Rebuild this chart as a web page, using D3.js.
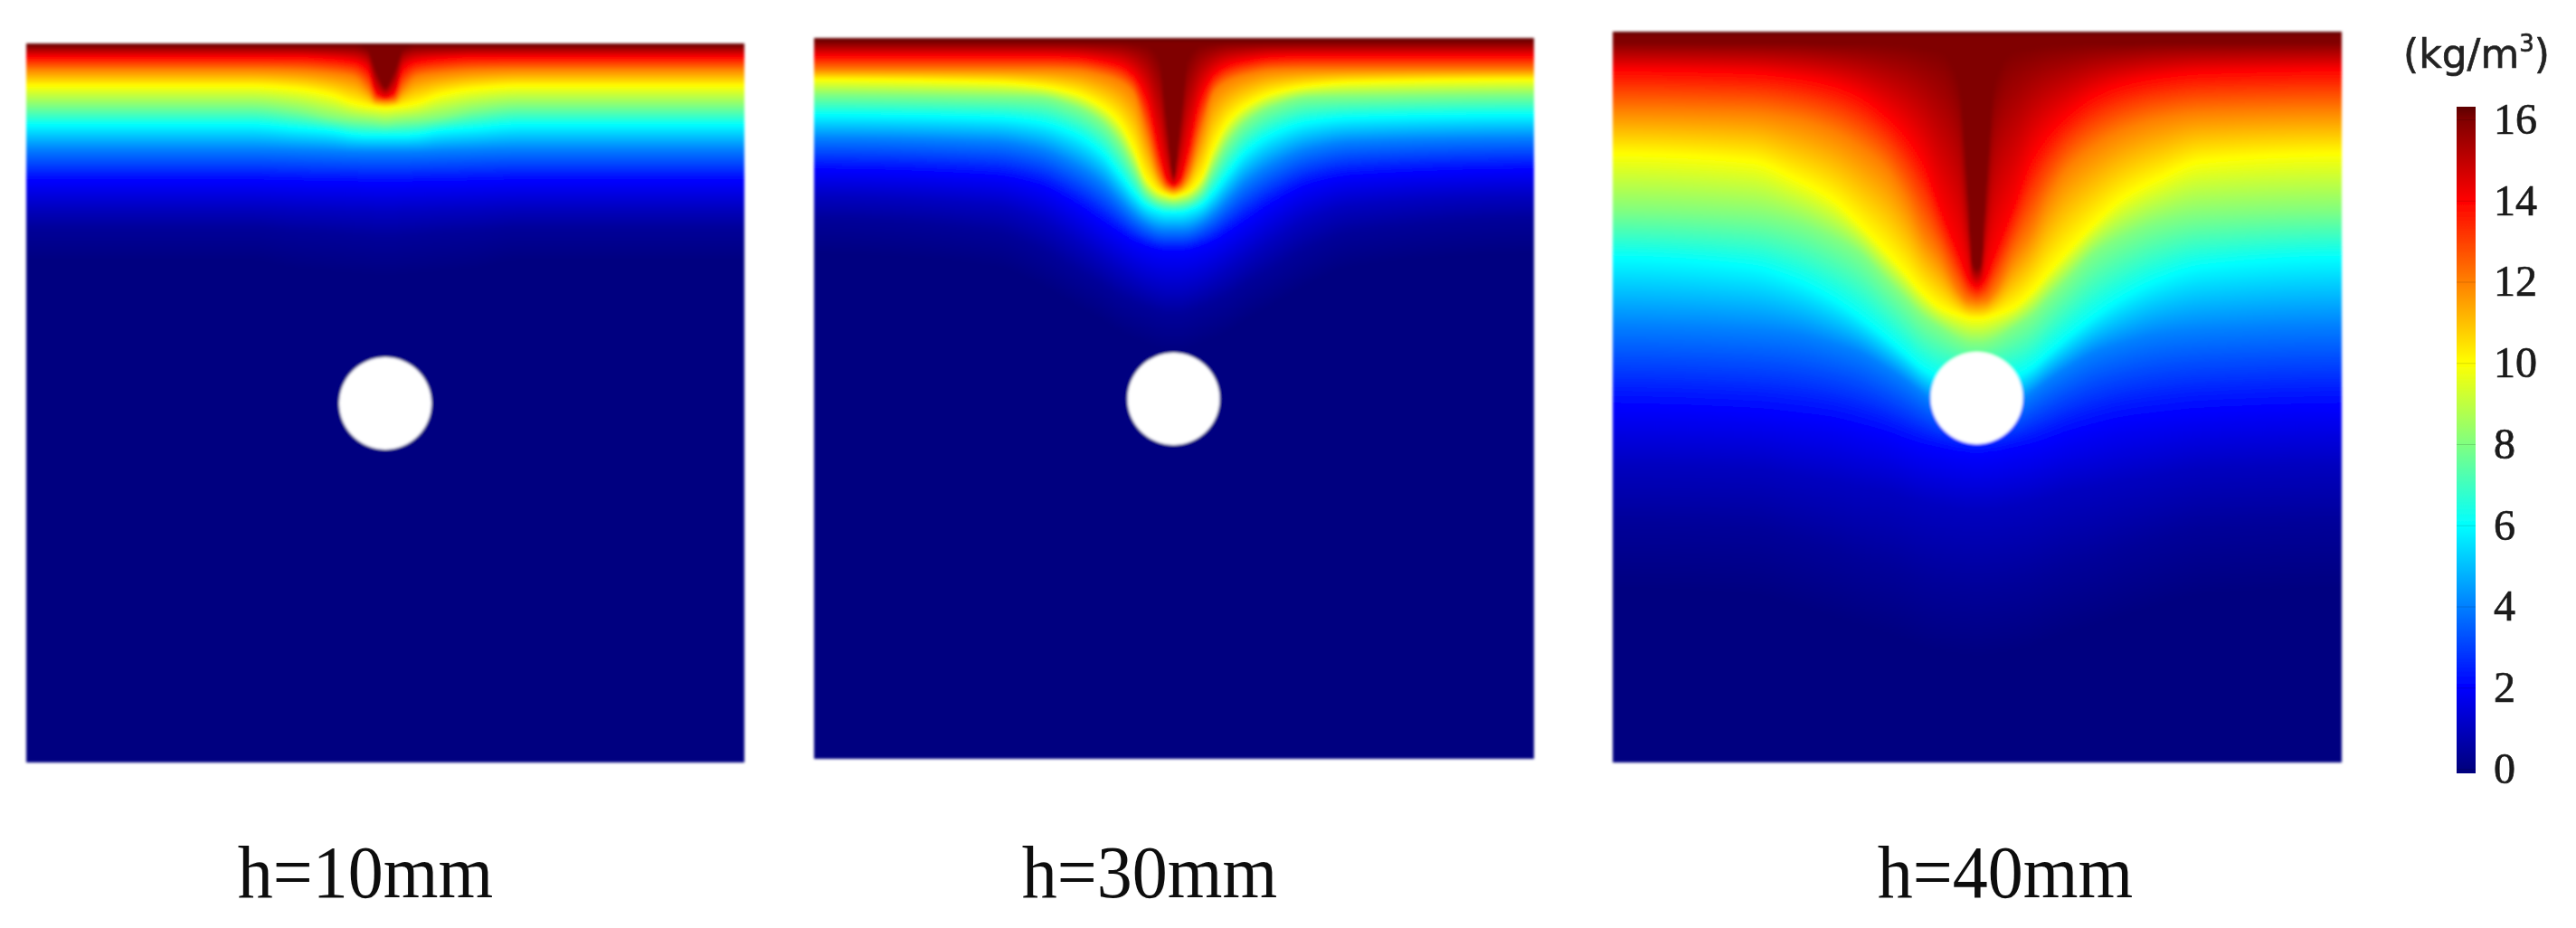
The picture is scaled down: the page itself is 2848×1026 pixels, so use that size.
<!DOCTYPE html>
<html><head><meta charset="utf-8">
<script src="https://cdn.jsdelivr.net/npm/d3@7"></script>
<style>html,body{margin:0;padding:0;background:#fff}svg{display:block}</style>
</head><body><svg id="chart" width="2848" height="1026"></svg>
<script>
// ---------- data ----------
const panelLabels = ["h=10mm", "h=30mm", "h=40mm"];
const colorTicks = [0, 2, 4, 6, 8, 10, 12, 14, 16];
const unitLabel = "(kg/m";
const unitExponent = "3";
// concentration levels whose iso-lines were traced
const levels = [16, 14, 12, 10, 8, 6, 4, 2, 1, 0.4, 0];
// field extents (field units) and hole centre depth / radius
const fieldDepths = [795, 797, 808];
const fieldHalfWidths = [397, 397.5, 402.5];
const holeDepths = [398, 399, 405];
const holeRadius = 51;
// horizontal offset from the centre line at which each iso-line depth was read
const offsets10 = [0, 10, 20, 35, 60, 100, 150, 410];
const iso10 = [
  [48, 30, 6, 3, 3, 3, 3, 3],
  [60, 55, 28, 20, 17, 15, 15, 15],
  [64, 63, 50, 37, 33, 30, 29, 29],
  [71, 70, 69, 66, 57, 50, 47, 47],
  [88, 87, 86, 85, 82, 74, 69, 69],
  [102, 102, 102, 101, 97, 94, 90, 90],
  [120, 120, 120, 120, 119, 118, 117, 117],
  [155, 155, 155, 154, 154, 153, 152, 152],
  [187, 187, 186, 186, 185, 184, 182, 182],
  [214, 214, 213, 212, 210, 208, 204, 204],
  [256, 256, 255, 254, 252, 248, 240, 240]
];
const offsets30 = [0, 8, 16, 30, 45, 60, 80, 110, 150, 200, 410];
const iso30 = [
  [152, 85, 22, 8, 6, 5, 5, 5, 5, 5, 5],
  [163, 156, 126, 66, 40, 30, 25, 21, 20, 20, 20],
  [168, 165, 153, 106, 60, 48, 41, 36, 35, 35, 35],
  [175, 173, 170, 156, 120, 93, 75, 61, 53, 49, 46],
  [183, 182, 180, 170, 143, 116, 93, 76, 66, 65, 63],
  [193, 193, 191, 185, 170, 150, 126, 106, 93, 88, 85],
  [213, 213, 212, 206, 195, 180, 160, 140, 123, 115, 111],
  [236, 236, 235, 231, 225, 216, 203, 183, 163, 153, 146],
  [280, 280, 278, 273, 265, 256, 243, 223, 200, 185, 175],
  [305, 305, 303, 298, 292, 285, 272, 255, 232, 214, 200],
  [345, 345, 343, 338, 332, 325, 312, 295, 272, 252, 238]
];
const offsets40 = [0, 5, 10, 20, 40, 60, 80, 100, 130, 160, 200, 250, 410];
const iso40 = [
  [262, 255, 170, 55, 22, 18, 15, 14, 13, 13, 12, 12, 12],
  [282, 279, 272, 245, 195, 142, 112, 92, 70, 58, 50, 45, 42],
  [300, 299, 298, 288, 252, 222, 182, 152, 127, 110, 97, 90, 87],
  [317, 317, 316, 313, 305, 288, 265, 243, 212, 185, 163, 143, 135],
  [345, 345, 344, 340, 328, 315, 295, 275, 245, 228, 212, 203, 198],
  [388, 388, 387, 385, 382, 372, 355, 338, 315, 295, 275, 260, 250],
  [425, 425, 424, 422, 415, 400, 385, 372, 355, 345, 335, 330, 325],
  [468, 468, 467, 466, 462, 458, 452, 445, 437, 430, 425, 420, 415],
  [528, 528, 528, 527, 524, 520, 514, 508, 503, 497, 490, 482, 478],
  [615, 615, 614, 613, 610, 605, 597, 590, 582, 572, 560, 548, 542],
  [690, 690, 689, 688, 685, 680, 672, 665, 656, 647, 635, 622, 615]
];
const allOffsets = [offsets10, offsets30, offsets40];
const allIso = [iso10, iso30, iso40];

// ---------- layout ----------
const boxes = [
  {x0: 29, x1: 823, y0: 48, y1: 843, label: 404},
  {x0: 900, x1: 1695, y0: 42, y1: 839, label: 1271},
  {x0: 1783, x1: 2588, y0: 35, y1: 843, label: 2217}
];
const bar = {x0: 2716, x1: 2737, y0: 118, y1: 855};
const COL = 2;
const RIM = 5;

const colorScale = d3.scaleLinear()
  .domain([0, 2, 6, 8, 10, 14, 16, 17])
  .range(["#000080", "#0000ff", "#00ffff", "#80ff80", "#ffff00", "#ff0000", "#800000", "#5c0000"])
  .clamp(true);

// shape-preserving cubic through the traced depths of one iso-line
function monotone(xs, ys) {
  const n = xs.length, h = [], s = [], m = new Array(n).fill(0);
  for (let i = 0; i < n - 1; i++) { h[i] = xs[i + 1] - xs[i]; s[i] = (ys[i + 1] - ys[i]) / h[i]; }
  for (let i = 1; i < n - 1; i++) {
    if (s[i - 1] * s[i] > 0) {
      const w1 = 2 * h[i] + h[i - 1], w2 = h[i] + 2 * h[i - 1];
      m[i] = (w1 + w2) / (w1 / s[i - 1] + w2 / s[i]);
    }
  }
  return x => {
    let i = Math.min(d3.bisectRight(xs, x) - 1, n - 2);
    const t = (x - xs[i]) / h[i], t2 = t * t, t3 = t2 * t;
    return (2 * t3 - 3 * t2 + 1) * ys[i] + (t3 - 2 * t2 + t) * h[i] * m[i] +
           (-2 * t3 + 3 * t2) * ys[i + 1] + (t3 - t2) * h[i] * m[i + 1];
  };
}

const svg = d3.select("#chart");
const defs = svg.append("defs");
const soft = defs.append("filter").attr("id", "soft")
  .attr("x", "-2%").attr("y", "-2%").attr("width", "104%").attr("height", "104%");
soft.append("feGaussianBlur").attr("stdDeviation", 1.4);
const softText = defs.append("filter").attr("id", "softText")
  .attr("x", "-5%").attr("y", "-20%").attr("width", "110%").attr("height", "140%");
softText.append("feGaussianBlur").attr("stdDeviation", 0.7);

boxes.forEach((box, p) => {
  const H = fieldDepths[p], W = fieldHalfWidths[p];
  const x = d3.scaleLinear().domain([-W, W]).range([box.x0, box.x1]);
  const y = d3.scaleLinear().domain([0, H]).range([box.y0, box.y1]);
  const curves = allIso[p].map(row => monotone(allOffsets[p], row));
  const nCols = Math.round((box.x1 - box.x0) / COL);
  const cols = d3.range(nCols).map(i => x.invert(box.x0 + i * COL));
  const du = x.invert(box.x0 + COL) - x.invert(box.x0);

  const g = svg.append("g").attr("class", "panel").attr("filter", "url(#soft)");
  cols.forEach((u, i) => {
    const id = `p${p}c${i}`;
    const mid = Math.abs(u + du / 2);
    let last = 0;
    const d16 = curves[0](mid);
    const stops = [{o: 0, c: colorScale(17)}];
    if (d16 > RIM) stops.push({o: RIM / H, c: colorScale(16)});
    levels.forEach((lv, k) => {
      let d = Math.max(curves[k](mid), last);
      last = d;
      stops.push({o: d / H, c: colorScale(lv)});
    });
    const lg = defs.append("linearGradient").attr("id", id)
      .attr("x1", 0).attr("y1", 0).attr("x2", 0).attr("y2", 1);
    lg.selectAll("stop").data(stops).join("stop")
      .attr("offset", d => d.o).attr("stop-color", d => d.c);
    g.append("rect")
      .attr("x", x(u)).attr("y", y(0))
      .attr("width", x(u + du) - x(u) + (i < nCols - 1 ? 0.5 : 0))
      .attr("height", y(H) - y(0))
      .attr("fill", `url(#${id})`);
  });
  g.append("circle")
    .attr("cx", x(0)).attr("cy", y(holeDepths[p]))
    .attr("r", x(holeRadius) - x(0))
    .attr("fill", "#ffffff");

  svg.append("text")
    .attr("transform", `translate(${box.label},992) scale(1,1.07)`)
    .attr("text-anchor", "middle")
    .attr("font-family", "'Liberation Serif', serif")
    .attr("font-size", 78)
    .attr("fill", "#111")
    .attr("filter", "url(#softText)")
    .text(panelLabels[p]);
});

// ---------- colour bar ----------
const barScale = d3.scaleLinear().domain([0, 16]).range([850, 132]);
const barGrad = defs.append("linearGradient").attr("id", "barGrad")
  .attr("x1", 0).attr("y1", 1).attr("x2", 0).attr("y2", 0);
barGrad.selectAll("stop").data(colorScale.domain()).join("stop")
  .attr("offset", d => (bar.y1 - barScale(d)) / (bar.y1 - bar.y0))
  .attr("stop-color", d => colorScale(d));
svg.append("rect").attr("x", bar.x0).attr("y", bar.y0)
  .attr("width", bar.x1 - bar.x0).attr("height", bar.y1 - bar.y0)
  .attr("fill", "url(#barGrad)").attr("filter", "url(#softText)");

const axis = d3.axisRight(barScale).tickValues(colorTicks)
  .tickSize(-(bar.x1 - bar.x0)).tickPadding(20).tickFormat(d3.format("d"));
const ax = svg.append("g").attr("transform", `translate(${bar.x1},0)`).call(axis);
ax.select(".domain").remove();
ax.selectAll(".tick line").attr("stroke", "#000").attr("stroke-opacity", 0.14);
ax.selectAll(".tick text")
  .attr("font-family", "'Liberation Serif', serif")
  .attr("font-size", 48)
  .attr("fill", "#1a1a1a")
  .attr("stroke", "#1a1a1a").attr("stroke-width", 0.7)
  .attr("filter", "url(#softText)");

const unit = svg.append("text").attr("x", 2657).attr("y", 75)
  .attr("font-family", "'DejaVu Sans', sans-serif").attr("font-size", 44)
  .attr("fill", "#222").attr("stroke", "#222").attr("stroke-width", 0.6)
  .attr("filter", "url(#softText)");
unit.append("tspan").text(unitLabel);
unit.append("tspan").attr("font-size", 26).attr("dy", -18).text(unitExponent);
unit.append("tspan").attr("dy", 18).text(")");
</script></body></html>
